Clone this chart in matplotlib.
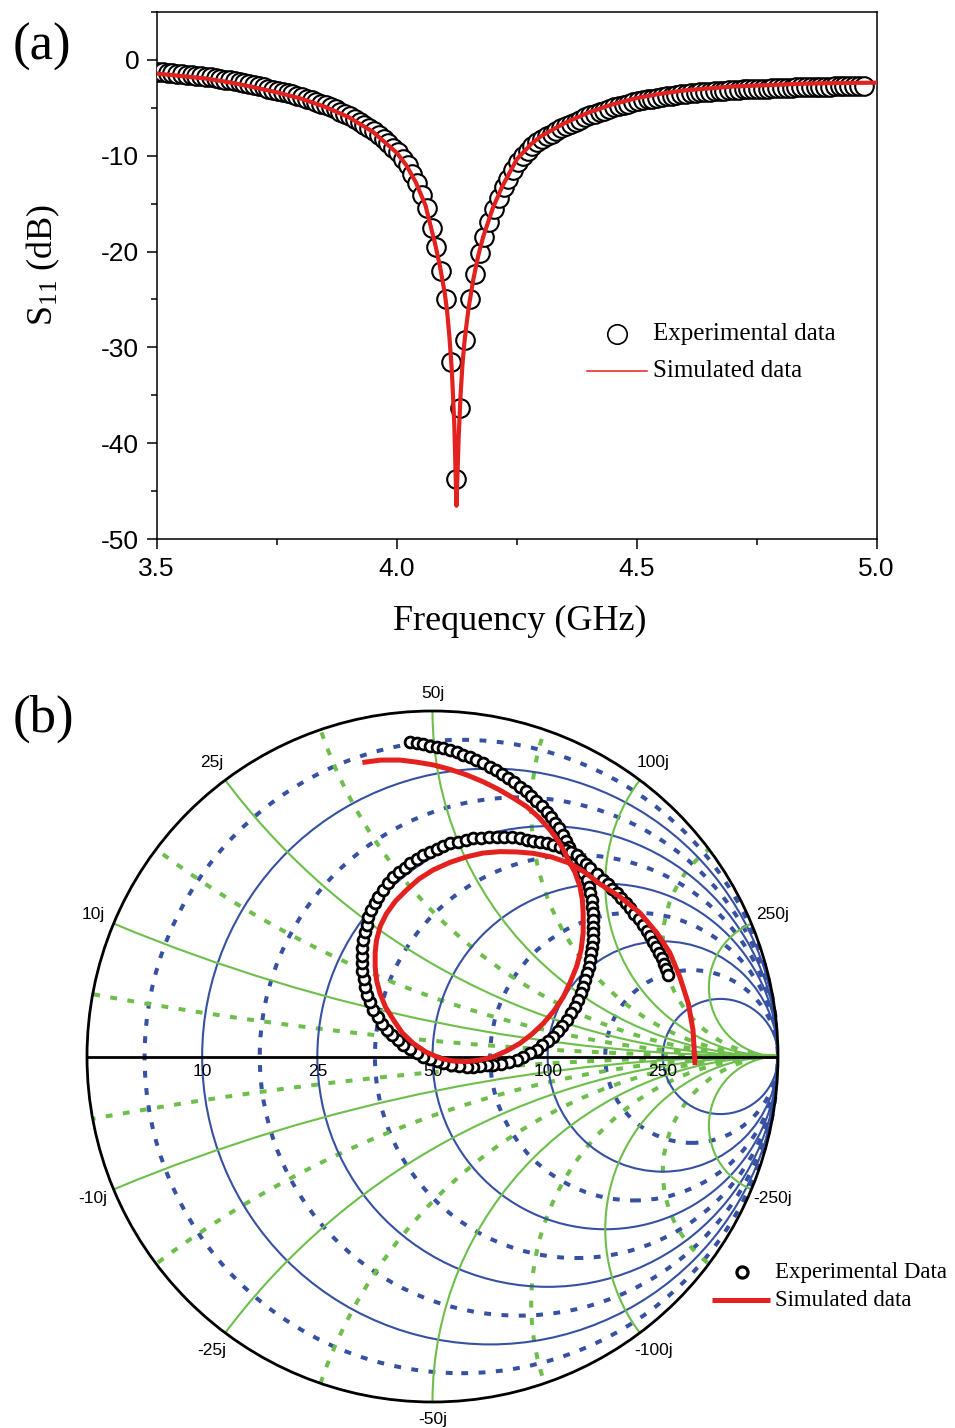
import matplotlib
matplotlib.use("Agg")
import numpy as np
import matplotlib.pyplot as plt
from matplotlib.patches import Circle
from matplotlib.ticker import MultipleLocator, FormatStrFormatter

plt.rcParams['font.family'] = ['Liberation Sans', 'DejaVu Sans']
plt.rcParams['axes.unicode_minus'] = False
plt.rcParams['mathtext.fontset'] = 'custom'
plt.rcParams['mathtext.rm'] = 'Liberation Serif'
plt.rcParams['mathtext.it'] = 'Liberation Serif:italic'
SERIF = ['Liberation Serif', 'DejaVu Serif']

# ---------------- (a) return loss vs frequency ----------------
exp_freq = [
    3.5025, 3.5125, 3.5225, 3.5325, 3.5425, 3.5525, 3.5625, 3.5725, 3.5825, 3.5925,
    3.6025, 3.6125, 3.6225, 3.6325, 3.6425, 3.6525, 3.6625, 3.6725, 3.6825, 3.6925,
    3.7025, 3.7125, 3.7225, 3.7325, 3.7425, 3.7525, 3.7625, 3.7725, 3.7825, 3.7925,
    3.8025, 3.8125, 3.8225, 3.8325, 3.8425, 3.8525, 3.8625, 3.8725, 3.8825, 3.8925,
    3.9025, 3.9125, 3.9225, 3.9325, 3.9425, 3.9525, 3.9625, 3.9725, 3.9825, 3.9925,
    4.0025, 4.0125, 4.0225, 4.0325, 4.0425, 4.0525, 4.0625, 4.0725, 4.0825, 4.0925,
    4.1025, 4.1125, 4.1225, 4.1325, 4.1425, 4.1525, 4.1625, 4.1725, 4.1825, 4.1925,
    4.2025, 4.2125, 4.2225, 4.2325, 4.2425, 4.2525, 4.2625, 4.2725, 4.2825, 4.2925,
    4.3025, 4.3125, 4.3225, 4.3325, 4.3425, 4.3525, 4.3625, 4.3725, 4.3825, 4.3925,
    4.4025, 4.4125, 4.4225, 4.4325, 4.4425, 4.4525, 4.4625, 4.4725, 4.4825, 4.4925,
    4.5025, 4.5125, 4.5225, 4.5325, 4.5425, 4.5525, 4.5625, 4.5725, 4.5825, 4.5925,
    4.6025, 4.6125, 4.6225, 4.6325, 4.6425, 4.6525, 4.6625, 4.6725, 4.6825, 4.6925,
    4.7025, 4.7125, 4.7225, 4.7325, 4.7425, 4.7525, 4.7625, 4.7725, 4.7825, 4.7925,
    4.8025, 4.8125, 4.8225, 4.8325, 4.8425, 4.8525, 4.8625, 4.8725, 4.8825, 4.8925,
    4.9025, 4.9125, 4.9225, 4.9325, 4.9425, 4.9525, 4.9625, 4.9725,
]
exp_s11 = [
    -1.26, -1.31, -1.36, -1.41, -1.46, -1.51, -1.56, -1.61, -1.66, -1.71,
    -1.77, -1.85, -1.93, -2.01, -2.09, -2.17, -2.27, -2.37, -2.47, -2.57,
    -2.68, -2.79, -2.90, -3.01, -3.12, -3.23, -3.36, -3.49, -3.62, -3.75,
    -3.89, -4.06, -4.23, -4.40, -4.57, -4.75, -4.97, -5.19, -5.41, -5.63,
    -5.88, -6.18, -6.48, -6.78, -7.08, -7.41, -7.85, -8.29, -8.73, -9.17,
    -9.66, -10.31, -11.02, -11.92, -12.90, -14.10, -15.50, -17.50, -19.55, -22.00,
    -25.00, -31.50, -43.70, -36.30, -29.20, -25.00, -22.30, -20.20, -18.45, -16.95,
    -15.55, -14.40, -13.30, -12.40, -11.45, -10.70, -10.05, -9.50, -9.02, -8.63,
    -8.30, -8.00, -7.72, -7.44, -7.16, -6.90, -6.68, -6.46, -6.24, -6.02,
    -5.81, -5.64, -5.47, -5.30, -5.13, -4.97, -4.84, -4.71, -4.58, -4.45,
    -4.33, -4.24, -4.15, -4.06, -3.97, -3.88, -3.81, -3.74, -3.67, -3.60,
    -3.54, -3.50, -3.46, -3.42, -3.38, -3.34, -3.30, -3.26, -3.22, -3.18,
    -3.15, -3.13, -3.11, -3.09, -3.07, -3.05, -3.03, -3.01, -2.99, -2.97,
    -2.95, -2.93, -2.91, -2.89, -2.87, -2.85, -2.84, -2.83, -2.82, -2.81,
    -2.80, -2.79, -2.79, -2.78, -2.78, -2.77, -2.77, -2.76,
]
sim_freq = [
    3.50, 3.55, 3.60, 3.65, 3.70, 3.75, 3.80, 3.85, 3.90, 3.95,
    4.00, 4.02, 4.04, 4.06, 4.08, 4.09, 4.10, 4.105, 4.11, 4.115,
    4.12, 4.1245, 4.129, 4.133, 4.137, 4.141, 4.145, 4.15, 4.16, 4.17,
    4.18, 4.20, 4.22, 4.25, 4.28, 4.30, 4.35, 4.40, 4.45, 4.50,
    4.55, 4.60, 4.65, 4.70, 4.75, 4.80, 4.85, 4.90, 4.95, 5.00,
]
sim_s11 = [
    -1.45, -1.70, -1.95, -2.35, -2.85, -3.40, -4.05, -4.90, -6.00, -7.50,
    -9.70, -11.0, -12.8, -15.2, -19.2, -21.5, -24.3, -26.2, -29.0, -32.5,
    -38.0, -46.5, -39.5, -35.0, -31.8, -29.5, -27.8, -25.8, -22.8, -20.4,
    -18.5, -15.5, -13.2, -10.4, -8.8, -8.0, -6.6, -5.5, -4.65, -4.0,
    -3.55, -3.2, -3.0, -2.8, -2.7, -2.6, -2.5, -2.45, -2.42, -2.4,
]
freq_ticks = [3.5, 4.0, 4.5, 5.0]
s11_ticks = [0, -10, -20, -30, -40, -50]

# ---------------- (b) reflection coefficient on the Smith chart ----------------
smith_exp_gamma = [
    (-0.065, 0.911), (-0.046, 0.907), (-0.027, 0.904), (-0.007, 0.900), (0.012, 0.896),
    (0.031, 0.892), (0.051, 0.886), (0.070, 0.880), (0.089, 0.874), (0.108, 0.866),
    (0.127, 0.858), (0.146, 0.849), (0.165, 0.839), (0.183, 0.828), (0.201, 0.817),
    (0.219, 0.806), (0.236, 0.794), (0.254, 0.781), (0.271, 0.769), (0.286, 0.755),
    (0.301, 0.740), (0.316, 0.725), (0.330, 0.709), (0.343, 0.694), (0.355, 0.677),
    (0.366, 0.660), (0.377, 0.642), (0.386, 0.624), (0.396, 0.606), (0.405, 0.588),
    (0.415, 0.570), (0.427, 0.553),
    (0.437, 0.532), (0.446, 0.511), (0.452, 0.491), (0.456, 0.472), (0.461, 0.453),
    (0.463, 0.434), (0.465, 0.414), (0.465, 0.395), (0.465, 0.376), (0.465, 0.357),
    (0.464, 0.337), (0.462, 0.318), (0.459, 0.299), (0.456, 0.279), (0.452, 0.260),
    (0.447, 0.241), (0.441, 0.221), (0.436, 0.202), (0.429, 0.183), (0.422, 0.164),
    (0.411, 0.144), (0.400, 0.125), (0.388, 0.106), (0.376, 0.089), (0.363, 0.073),
    (0.350, 0.057), (0.334, 0.044), (0.318, 0.032), (0.302, 0.019), (0.282, 0.009),
    (0.263, -0.001), (0.244, -0.010), (0.221, -0.016), (0.199, -0.021), (0.176, -0.025),
    (0.157, -0.026), (0.137, -0.027), (0.118, -0.029), (0.099, -0.030), (0.076, -0.028),
    (0.054, -0.025), (0.031, -0.020), (0.012, -0.014), (-0.007, -0.008), (-0.027, -0.001),
    (-0.046, 0.010), (-0.065, 0.021), (-0.085, 0.033), (-0.101, 0.047), (-0.117, 0.061),
    (-0.133, 0.077), (-0.146, 0.095), (-0.159, 0.115), (-0.171, 0.135), (-0.181, 0.157),
    (-0.189, 0.179), (-0.195, 0.202), (-0.199, 0.225), (-0.203, 0.247), (-0.205, 0.270),
    (-0.205, 0.292), (-0.203, 0.315), (-0.200, 0.337), (-0.196, 0.360), (-0.191, 0.382),
    (-0.186, 0.405), (-0.177, 0.425), (-0.167, 0.444), (-0.157, 0.463), (-0.143, 0.482),
    (-0.129, 0.501), (-0.113, 0.520), (-0.097, 0.534), (-0.081, 0.547), (-0.065, 0.559),
    (-0.046, 0.571), (-0.027, 0.582), (-0.007, 0.593), (0.012, 0.602), (0.031, 0.610),
    (0.051, 0.617), (0.073, 0.622), (0.096, 0.627), (0.118, 0.632), (0.141, 0.633),
    (0.163, 0.635), (0.186, 0.636), (0.208, 0.635), (0.231, 0.634), (0.253, 0.632),
    (0.273, 0.628), (0.292, 0.625), (0.311, 0.622), (0.331, 0.617), (0.350, 0.612),
    (0.369, 0.607), (0.385, 0.599), (0.401, 0.591), (0.417, 0.583),
    (0.430, 0.570), (0.443, 0.557), (0.456, 0.545), (0.475, 0.528), (0.494, 0.511),
    (0.507, 0.498), (0.520, 0.485), (0.533, 0.472), (0.546, 0.458), (0.559, 0.443),
    (0.572, 0.429), (0.584, 0.413), (0.597, 0.397), (0.610, 0.381), (0.620, 0.364),
    (0.630, 0.348), (0.639, 0.332), (0.647, 0.316), (0.655, 0.300), (0.663, 0.284),
    (0.670, 0.268), (0.676, 0.252), (0.683, 0.236),
]
smith_sim_gamma = [
    (-0.203, 0.851), (-0.149, 0.858), (-0.094, 0.858), (-0.046, 0.852), (0.002, 0.844),
    (0.051, 0.831), (0.099, 0.815), (0.147, 0.795), (0.195, 0.771), (0.234, 0.748),
    (0.273, 0.723), (0.308, 0.692), (0.340, 0.656), (0.362, 0.627), (0.379, 0.598),
    (0.398, 0.559), (0.412, 0.534), (0.427, 0.491), (0.434, 0.453), (0.436, 0.415),
    (0.436, 0.357), (0.430, 0.308), (0.417, 0.260), (0.399, 0.216), (0.379, 0.173),
    (0.352, 0.133), (0.321, 0.096), (0.288, 0.065), (0.253, 0.038), (0.216, 0.017),
    (0.176, -0.001), (0.137, -0.010), (0.099, -0.015), (0.059, -0.013), (0.022, -0.005),
    (-0.019, 0.013), (-0.056, 0.038), (-0.088, 0.069), (-0.113, 0.106), (-0.136, 0.143),
    (-0.152, 0.183), (-0.162, 0.221), (-0.166, 0.260), (-0.166, 0.300), (-0.162, 0.337),
    (-0.151, 0.378), (-0.133, 0.414), (-0.107, 0.450), (-0.075, 0.482), (-0.039, 0.514),
    (0.002, 0.540), (0.051, 0.562), (0.099, 0.578), (0.147, 0.589), (0.195, 0.593),
    (0.244, 0.592), (0.292, 0.588), (0.346, 0.577), (0.398, 0.559), (0.441, 0.533),
    (0.485, 0.499), (0.543, 0.462), (0.601, 0.415), (0.650, 0.357), (0.687, 0.300),
    (0.716, 0.230), (0.740, 0.155), (0.754, 0.077), (0.760, -0.025),
]
z0 = 50.0
grid_ohm = [10, 25, 50, 100, 250]             # labelled resistance / reactance values
minor_norm = [1 / 11, 1 / 3, 1 / 1.4, 1.4, 3]  # dotted intermediate circles (normalised)

RED = '#E3211F'
BLUE = '#3650A2'
GREEN = '#6DBE4B'

W, H = 955, 1428
fig = plt.figure(figsize=(W / 100, H / 100), dpi=100)

# ---------------- panel (a) ----------------
axa = fig.add_axes([156.7 / W, 1 - 539.3 / H, 720 / W, 527.6 / H])
axa.plot(exp_freq, exp_s11, ls='none', marker='o', ms=13.4, mfc='white',
         mec='black', mew=1.5, zorder=3)
axa.plot(sim_freq, sim_s11, color=RED, lw=3.0, zorder=4)
axa.set_xlim(3.5, 5.0)
axa.set_ylim(-50, 5)
axa.set_xticks(freq_ticks)
axa.set_yticks(s11_ticks)
axa.xaxis.set_minor_locator(MultipleLocator(0.25))
axa.yaxis.set_minor_locator(MultipleLocator(5))
axa.xaxis.set_major_formatter(FormatStrFormatter('%.1f'))
axa.yaxis.set_major_formatter(FormatStrFormatter('%d'))
axa.tick_params(which='both', direction='out', top=False, right=False, width=1.1)
axa.tick_params(which='major', length=7.5, labelsize=19, pad=5)
axa.tick_params(which='minor', length=4)
for sp in axa.spines.values():
    sp.set_linewidth(1.1)

# legend of panel (a)
axa.plot([0.6389], [0.3886], transform=axa.transAxes, ls='none', marker='o', ms=14,
         mfc='white', mec='black', mew=1.2, clip_on=False)
axa.text(0.6897, 0.3886, 'Experimental data', transform=axa.transAxes, ha='left',
         va='center', fontsize=18, family=SERIF)
axa.plot([0.5972, 0.6806], [0.3196, 0.3196], transform=axa.transAxes, color=RED, lw=1.1)
axa.text(0.6897, 0.3196, 'Simulated data', transform=axa.transAxes, ha='left',
         va='center', fontsize=18, family=SERIF)

fig.text(520 / W, 1 - 621 / H, 'Frequency (GHz)', ha='center', va='center',
         fontsize=26, family=SERIF)
fig.text(43.5 / W, 1 - 264.5 / H, r'S$_{\mathrm{11}}$ (dB)', rotation=90, ha='center',
         va='center', fontsize=26, family=SERIF)
fig.text(42 / W, 1 - 47 / H, '(a)', ha='center', va='center', fontsize=38, family=SERIF)

# ---------------- panel (b): Smith chart ----------------
axb = fig.add_axes([87 / W, 1 - 1402 / H, 691 / W, 691 / H])
axb.set_xlim(-1, 1)
axb.set_ylim(-1, 1)
axb.axis('off')
unit = Circle((0, 0), 1, transform=axb.transData)
dots = (0, (1.7, 2.6))

for rn in minor_norm:
    axb.add_patch(Circle((rn / (1 + rn), 0), 1 / (1 + rn), fill=False, ec=BLUE,
                         lw=2.9, ls=dots, zorder=1))
for xn in minor_norm:
    for s in (1, -1):
        p = Circle((1, s / xn), 1 / xn, fill=False, ec=GREEN, lw=2.9, ls=dots, zorder=1)
        axb.add_patch(p)
        p.set_clip_path(unit)
for r in grid_ohm:
    rn = r / z0
    axb.add_patch(Circle((rn / (1 + rn), 0), 1 / (1 + rn), fill=False, ec=BLUE,
                         lw=1.5, zorder=2))
for x in grid_ohm:
    xn = x / z0
    for s in (1, -1):
        p = Circle((1, s / xn), 1 / xn, fill=False, ec=GREEN, lw=1.5, zorder=2)
        axb.add_patch(p)
        p.set_clip_path(unit)

axb.add_patch(Circle((0, 0), 1, fill=False, ec='black', lw=2.0, zorder=3, clip_on=False))
axb.plot([-1, 1], [0, 0], color='black', lw=2.0, zorder=3, solid_capstyle='butt',
         clip_on=False)

# resistance labels just below the real axis
for r in grid_ohm:
    rn = r / z0
    axb.text((rn - 1) / (rn + 1), -0.042, str(r), ha='center', va='center',
             fontsize=12.5, zorder=4)
# reactance labels outside the rim
for x in grid_ohm:
    xn = x / z0
    phi = np.pi - 2 * np.arctan(xn)
    rad = 1.05 if x == 50 else 1.065
    axb.text(rad * np.cos(phi), rad * np.sin(phi), f'{x}j', ha='center', va='center',
             fontsize=12.5, clip_on=False)
    axb.text(rad * np.cos(phi), -rad * np.sin(phi), f'-{x}j', ha='center', va='center',
             fontsize=12.5, clip_on=False)

g_exp = np.array(smith_exp_gamma)
g_sim = np.array(smith_sim_gamma)
axb.plot(g_exp[:, 0], g_exp[:, 1], ls='none', marker='o', ms=7.8, mfc='white',
         mec='black', mew=2.0, zorder=5)
axb.plot(g_sim[:, 0], g_sim[:, 1], color=RED, lw=3.6, zorder=6, solid_capstyle='butt')

# legend of panel (b)
axb.plot([0.896], [-0.624], ls='none', marker='o', ms=8, mfc='white', mec='black',
         mew=2.3, clip_on=False, zorder=6)
axb.text(0.991, -0.624, 'Experimental Data', ha='left', va='center', fontsize=16.5,
         family=SERIF, clip_on=False)
axb.plot([0.809, 0.977], [-0.705, -0.705], color=RED, lw=3.6, clip_on=False,
         solid_capstyle='butt')
axb.text(0.991, -0.705, 'Simulated data', ha='left', va='center', fontsize=16.5,
         family=SERIF, clip_on=False)

fig.text(43 / W, 1 - 719 / H, '(b)', ha='center', va='center', fontsize=38, family=SERIF)

fig.savefig('out.png', dpi=100, facecolor='white')
